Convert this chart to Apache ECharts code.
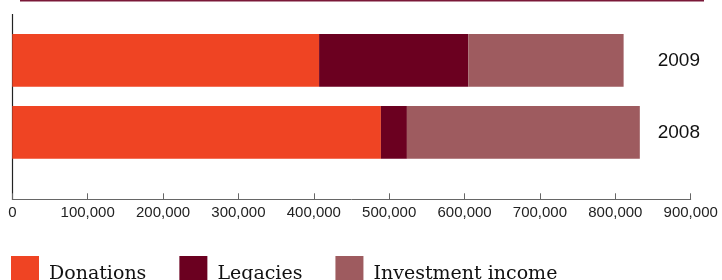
<!DOCTYPE html>
<html>
<head>
<meta charset="utf-8">
<script src="https://cdn.jsdelivr.net/npm/echarts@6/dist/echarts.min.js"></script>
<style>
  html, body { margin: 0; padding: 0; background: #fff; }
  #chart { width: 722px; height: 280px; }
</style>
</head>
<body>
<div id="chart"></div>
<script>
// data
const years = ['2009', '2008']
const donations = [407000, 489000]
const legacies = [198000, 34500]
const investment = [206000, 309000]
const xTicks = [0, 100000, 200000, 300000, 400000, 500000, 600000, 700000, 800000, 900000]

const colors = ['#ef4423', '#6b0020', '#9e5b5f']

const chart = echarts.init(document.getElementById('chart'), null, { renderer: 'canvas' })

const option = {
  animation: false,
  color: colors,
  grid: { left: 12.3, right: 31.3, top: 24.3, bottom: 111.7 },
  graphic: [
    // top rule and the left axis line
    { type: 'line', shape: { x1: 20, y1: 0.8, x2: 704, y2: 0.8 }, style: { stroke: '#7a1838', lineWidth: 1.6 } },
    { type: 'line', shape: { x1: 12.5, y1: 14, x2: 12.5, y2: 199.5 }, style: { stroke: '#222', lineWidth: 1.2 } }
  ],
  legend: {
    left: 6,
    top: 251,
    itemWidth: 28,
    itemHeight: 37,
    itemGap: 33,
    // square sits at the top of a taller box so the label drops a little below its centre
    icon: 'path://M0,0L28,0L28,28L0,28Z M0,37L28,37',
    textStyle: { fontFamily: 'DejaVu Serif', fontSize: 19, color: '#111', padding: [0, 0, 0, 5] },
    data: ['Donations', 'Legacies', 'Investment income']
  },
  xAxis: {
    type: 'value',
    min: xTicks[0],
    max: xTicks[xTicks.length - 1],
    interval: 100000,
    offset: 31,
    splitLine: { show: false },
    axisLine: { show: true, lineStyle: { color: '#666', width: 1 } },
    axisTick: { show: true, inside: true, length: 6, lineStyle: { color: '#666' } },
    axisLabel: {
      margin: 6,
      fontFamily: 'Liberation Sans',
      fontSize: 15,
      color: '#222',
      formatter: v => v.toLocaleString('en-US')
    }
  },
  yAxis: {
    type: 'category',
    data: years,
    inverse: true,
    position: 'right',
    offset: -33,
    axisLine: { show: false },
    axisTick: { show: false },
    axisLabel: { margin: 0, fontFamily: 'Liberation Sans', fontSize: 19, color: '#111' }
  },
  series: [
    { name: 'Donations', type: 'bar', stack: 'total', data: donations, barCategoryGap: '26.8%' },
    { name: 'Legacies', type: 'bar', stack: 'total', data: legacies },
    { name: 'Investment income', type: 'bar', stack: 'total', data: investment }
  ]
}

chart.setOption(option)
</script>
</body>
</html>
